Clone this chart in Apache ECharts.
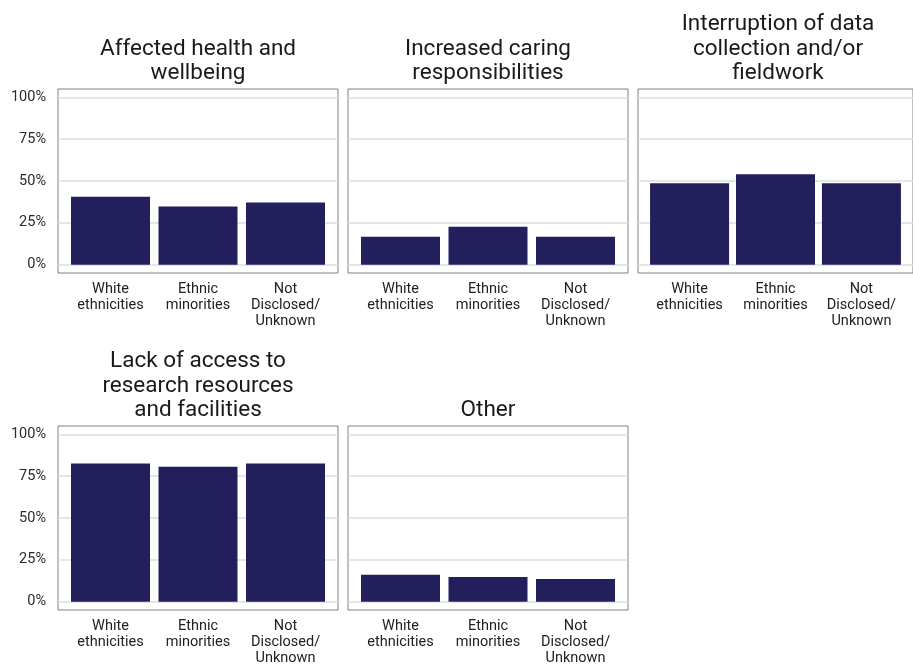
<!DOCTYPE html>
<html>
<head>
<meta charset="utf-8">
<script src="https://cdn.jsdelivr.net/npm/echarts@6/dist/echarts.min.js"></script>
<style>
html,body{margin:0;padding:0;background:#fff;}
#chart{width:913px;height:668px;}
</style>
</head>
<body>
<div id="chart"></div>
<script>
// ---- Data ----
const categories = ['White\nethnicities', 'Ethnic\nminorities', 'Not\nDisclosed/\nUnknown'];
const panelTitles = [
  'Affected health and\nwellbeing',
  'Increased caring\nresponsibilities',
  'Interruption of data\ncollection and/or\nfieldwork',
  'Lack of access to\nresearch resources\nand facilities',
  'Other'
];
const healthValues = [40.6, 34.7, 37.1];
const caringValues = [16.7, 22.7, 16.7];
const fieldworkValues = [48.6, 54.0, 48.6];
const accessValues = [82.6, 80.6, 82.6];
const otherValues = [16.0, 14.8, 13.6];
const yTicks = [0, 25, 50, 75, 100];

const panelValues = [healthValues, caringValues, fieldworkValues, accessValues, otherValues];

// ---- Layout ----
const panelW = 280, panelH = 184, gap = 10, left0 = 58;
const rowTops = [89, 426];
const barColor = '#221f5c';
const font = 'Roboto, "Noto Sans", sans-serif';

const grids = [], xAxes = [], yAxes = [], series = [], titles = [];
panelValues.forEach((vals, i) => {
  const col = i % 3, row = Math.floor(i / 3);
  const left = left0 + col * (panelW + gap);
  const top = rowTops[row];
  grids.push({
    left: left, top: top, width: panelW, height: panelH,
    show: true, borderColor: '#808080', borderWidth: 1, backgroundColor: '#fff',
    containLabel: false
  });
  xAxes.push({
    gridIndex: i, type: 'value', min: 0.4, max: 3.6,
    axisLine: {show: false, onZero: false}, axisTick: {show: false, customValues: [1, 2, 3]},
    splitLine: {show: false},
    axisLabel: {
      customValues: [1, 2, 3],
      formatter: v => categories[Math.round(v) - 1],
      color: '#222', fontSize: 14.5, lineHeight: 16, fontFamily: font, margin: 8,
      verticalAlign: 'top'
    }
  });
  yAxes.push({
    gridIndex: i, type: 'value', min: -5, max: 105,
    axisLine: {show: false}, axisTick: {show: false, customValues: yTicks},
    splitLine: {show: true, lineStyle: {color: '#dcdcdc', width: 1.5}},
    axisLabel: {
      show: col === 0, customValues: yTicks, formatter: v => v + '%',
      color: '#2b2b2b', fontSize: 14.5, fontFamily: font, margin: 12,
      padding: [3, 0, 0, 0]
    }
  });
  series.push({
    type: 'bar', xAxisIndex: i, yAxisIndex: i,
    barWidth: 79, silent: true,
    itemStyle: {color: barColor},
    data: vals.map((v, k) => [k + 1, v])
  });
  titles.push({
    text: panelTitles[i],
    left: left + panelW / 2, top: top - 3, padding: 0,
    textAlign: 'center', textVerticalAlign: 'bottom',
    textStyle: {fontFamily: font, fontSize: 22.5, fontWeight: 'normal', color: '#1a1a1a', lineHeight: 24.5}
  });
});

const chart = echarts.init(document.getElementById('chart'), null, {renderer: 'canvas'});
chart.setOption({
  animation: false,
  backgroundColor: '#fff',
  title: titles,
  grid: grids,
  xAxis: xAxes,
  yAxis: yAxes,
  series: series
});
</script>
</body>
</html>
